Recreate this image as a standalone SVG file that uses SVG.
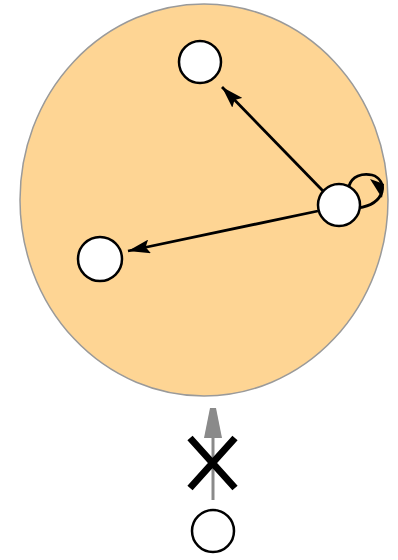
<svg xmlns="http://www.w3.org/2000/svg" width="398" height="560" viewBox="0 0 398 560">
<style>
.node{fill:#fff;stroke:#000;stroke-width:2.5}
.edge{fill:none;stroke:#000;stroke-width:2.8}
</style>
<defs>
<marker id="ah" viewBox="0 0 22 14" refX="22" refY="7" markerWidth="22" markerHeight="14" markerUnits="userSpaceOnUse" orient="auto"><path d="M0,0 L22,7 L0,14 L4,7 Z" fill="#000"/></marker>
</defs>
<g id="region"><ellipse cx="204" cy="200" rx="184" ry="196" fill="#fed594" stroke="#9a9a9a" stroke-width="1.5"/></g>
<g id="connectors">
<line class="edge" x1="324" y1="192" x2="222" y2="87" marker-end="url(#ah)"/>
<line class="edge" x1="318" y1="211" x2="128" y2="251" marker-end="url(#ah)"/>
<path class="edge" d="M349,186 C352,176 362,173 372,175 C380,177 384,185 382,192 C379,201 372,206 358,208" />
<path d="M370,179 L384,184 L382,198 Z" fill="#000"/>
<line x1="213" y1="500" x2="213" y2="430" stroke="#8a8a8a" stroke-width="3"/>
<path d="M210,408 L216,408 L222,438 L204,438 Z" fill="#8a8a8a"/>
<path d="M190,438 L235,488 M235,438 L190,488" stroke="#000" stroke-width="7" fill="none"/>
</g>
<g id="n_top"><circle class="node" cx="200" cy="62" r="21"/></g>
<g id="n_right"><circle class="node" cx="339" cy="205" r="21"/></g>
<g id="n_left"><circle class="node" cx="100" cy="259" r="22"/></g>
<g id="n_bottom"><circle class="node" cx="213" cy="531" r="21"/></g>
</svg>
